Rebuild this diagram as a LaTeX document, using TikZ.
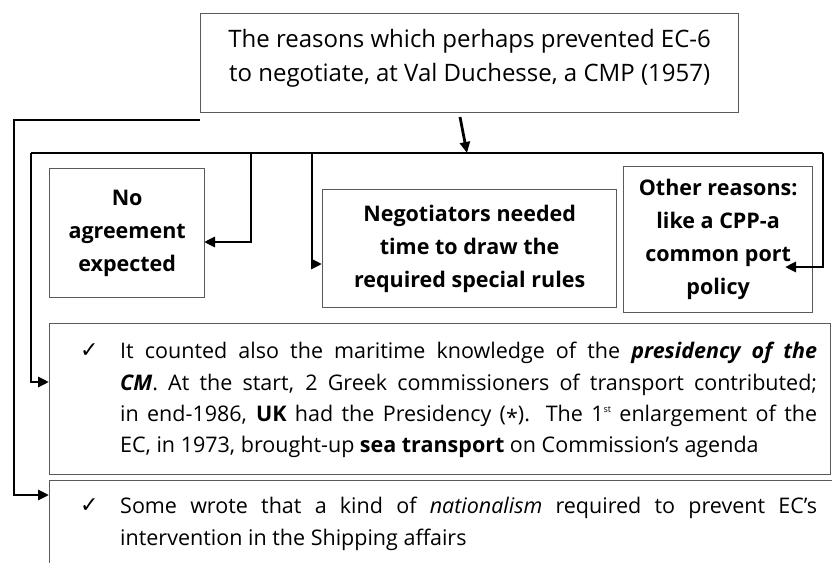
\documentclass[tikz,border=0pt]{standalone}
\usepackage{fontspec}
\setmainfont{Open Sans}
\newfontfamily\symfont{DejaVu Sans}
\usetikzlibrary{arrows.meta}

\definecolor{boxgray}{HTML}{5A5A5A}

\tikzset{
  box/.style={draw=boxgray, line width=1.3pt, rectangle, inner sep=0pt, anchor=north west, align=center},
  link/.style={line width=2.8pt, draw=black, line cap=butt, line join=miter},
  tip/.style={-{Triangle[length=11pt,width=10pt]}},
  bodytxt/.style={inner sep=0pt, anchor=base west, font=\fontsize{21.5}{32}\selectfont},
  headtxt/.style={inner sep=0pt, align=center, font=\fontsize{24}{34}\selectfont},
  boldtxt/.style={font=\fontsize{21.5}{33}\selectfont\bfseries},
  tick/.style={inner sep=0pt, anchor=base west, font=\symfont\fontsize{22}{22}\selectfont},
}

\newcommand{\jline}[1]{\makebox[697pt][s]{#1}}
\newcommand{\supst}{\raisebox{9pt}{\fontsize{9}{9}\selectfont st}}

\begin{document}
\begin{tikzpicture}[x=1pt, y=-1pt]
  \useasboundingbox (0,0) rectangle (832,562);
  \clip (0,0) rectangle (832,562);

  % boxes
  \node[box, minimum width=538pt, minimum height=99pt] (top) at (200,13) {};
  \node[headtxt, yshift=5pt] (toptext) at (top.center)
    {The reasons which perhaps prevented EC-6\\to negotiate, at Val Duchesse, a CMP (1957)};
  \node[box, boldtxt, minimum width=155pt, minimum height=129pt] (na) at (49,168)
    {No\\agreement\\expected};
  \node[box, boldtxt, minimum width=294pt, minimum height=118pt] (neg) at (322,189)
    {Negotiators needed\\time to draw the\\required special rules};
  \node[box, boldtxt, minimum width=189pt, minimum height=146pt] (oth) at (623,166)
    {Other reasons:\\like a CPP-a\\common port\\policy};
  \node[box, minimum width=781pt, minimum height=151pt] (b1) at (49,323) {};
  \node[box, minimum width=820pt, minimum height=120pt] (b2) at (49,480) {};

  % first bullet
  \node[tick] (t1) at (80,357) {✓};
  \node[bodytxt] (l11) at (120,358) {\jline{It counted also the maritime knowledge of the \textit{\textbf{presidency of the}}}};
  \node[bodytxt] (l12) at (120,390) {\jline{\textit{\textbf{CM}}. At the start, 2 Greek commissioners of transport contributed;}};
  \node[bodytxt] (l13) at (120,421) {\jline{in end-1986, \textbf{UK} had the Presidency (\raisebox{-4pt}{*}). The 1\supst{} enlargement of the}};
  \node[bodytxt] (l14) at (120,452) {EC, in 1973, brought-up \textbf{sea transport} on Commission’s agenda};

  % second bullet
  \node[tick] (t2) at (80,512) {✓};
  \node[bodytxt] (l21) at (120,513) {\jline{Some wrote that a kind of \textit{nationalism} required to prevent EC’s}};
  \node[bodytxt] (l22) at (120,545) {intervention in the Shipping affairs};

  % connector points
  \coordinate (topout) at (460,117);
  \coordinate (hub) at (467,153);
  \coordinate (busL) at (31,153);
  \coordinate (busR) at (823,153);
  \coordinate (j1) at (251,153);
  \coordinate (j2) at (312,153);
  \coordinate (naIn) at (204,242);
  \coordinate (negIn) at (322,264);
  \coordinate (othIn) at (785,267);
  \coordinate (b1In) at (49,382);
  \coordinate (outStart) at (200,120);
  \coordinate (outCorner) at (14,120);
  \coordinate (b2In) at (49,495);

  % connectors
  \draw[link, tip] (topout) -- (hub);
  \draw[link] (busL) -- (busR);
  \draw[link, tip] (j1) |- (naIn);
  \draw[link, tip] (j2) |- (negIn);
  \draw[link, tip] (busR) |- (othIn);
  \draw[link, tip] (busL) |- (b1In);
  \draw[link, tip] (outStart) -- (outCorner) |- (b2In);
\end{tikzpicture}
\end{document}
